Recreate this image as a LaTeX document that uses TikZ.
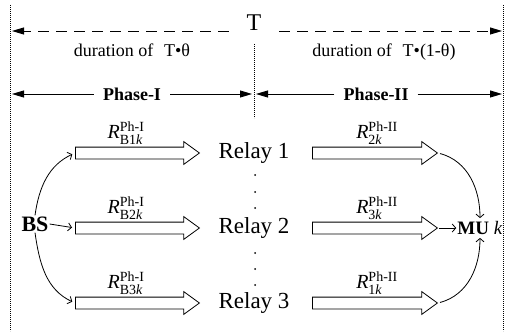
\documentclass[tikz,border=0pt]{standalone}
\usepackage{fontspec}
\usepackage{amsmath}
\setmainfont{Liberation Serif}
\usetikzlibrary{arrows.meta,shapes.arrows}

\begin{document}
\begin{tikzpicture}[x=1pt,y=1pt,
  divider/.style={line width=0.9pt, dash pattern=on 0.9pt off 1.1pt},
  spantip/.style={line width=0.9pt, -{Triangle[length=12pt,width=7pt]}},
  dashtip/.style={line width=0.9pt, dash pattern=on 11pt off 7pt, -{Triangle[length=12pt,width=7pt]}},
  toptext/.style={font=\fontsize{18}{20}\selectfont, inner sep=0pt},
  phasetext/.style={font=\fontsize{18}{20}\selectfont\bfseries, inner xsep=9pt},
  relay/.style={font=\fontsize{23}{25}\selectfont, inner sep=0pt},
  blockarr/.style={single arrow, draw, line width=0.8pt, inner xsep=0pt, inner ysep=5.5pt,
    single arrow head extend=5.5pt,
    single arrow tip angle=72, anchor=tail},
  rlab/.style={font=\fontsize{20}{22}\selectfont, inner sep=0pt},
  conn/.style={line width=0.8pt, -{Straight Barb[length=3.5pt,width=8pt]}},
  dotmark/.style={fill=black}
]
\useasboundingbox (0,0) rectangle (505,335);

% vertical time boundaries
\coordinate (lt) at (10,330);
\coordinate (lb) at (10,4);
\coordinate (rt) at (503,330);
\coordinate (rb) at (503,4);
\coordinate (mt) at (254,291);
\coordinate (mb) at (254,217);
\draw[divider] (lt) -- (lb);
\draw[divider] (rt) -- (rb);
\draw[divider] (mt) -- (mb);

% total frame length T
\node[font=\fontsize{24}{26}\selectfont, inner sep=0pt, minimum width=50pt, anchor=base] (T) at (254,304) {T};
\coordinate (tl) at (12,304);
\coordinate (tr) at (502,304);
\draw[dashtip] (T.base west) -- (tl);
\draw[dashtip] (T.base east) -- (tr);

\node[toptext, anchor=base] (d1) at (132,278) {duration of\hspace{0.35em} T•θ};
\node[toptext, anchor=base] (d2) at (384,278) {duration of\hspace{0.35em} T•(1-θ)};

% phase spans
\node[phasetext] (p1) at (132,241) {Phase-I};
\node[phasetext] (p2) at (376,241) {Phase-II};
\coordinate (pl) at (12,241);
\coordinate (pm1) at (252,241);
\coordinate (pm2) at (256,241);
\coordinate (pr) at (502,241);
\draw[spantip] (p1.west) -- (pl);
\draw[spantip] (p1.east) -- (pm1);
\draw[spantip] (p2.west) -- (pm2);
\draw[spantip] (p2.east) -- (pr);

% relays
\node[relay] (r1) at (254,182) {Relay 1};
\node[relay] (r2) at (254,107) {Relay 2};
\node[relay] (r3) at (254,32) {Relay 3};
\foreach \y in {160,143,127,82,66,50} \fill[dotmark] (255,\y) circle (1pt);

% base station and user
\node[font=\fontsize{22}{24}\selectfont\bfseries, inner sep=1pt] (bs) at (35,111) {BS};
\node[font=\fontsize{19}{21}\selectfont, inner sep=1pt] (mu) at (480,107) {\textbf{MU} \textit{k}};

% phase-I links
\node[blockarr, minimum height=124pt] (a1) at (75,182) {};
\node[blockarr, minimum height=124pt] (a2) at (75,107) {};
\node[blockarr, minimum height=124pt] (a3) at (75,32) {};
\node[rlab] at (126,202) {\textit{R}$^{\text{Ph-I}}_{\text{B1}\textit{k}}$};
\node[rlab] at (126,127) {\textit{R}$^{\text{Ph-I}}_{\text{B2}\textit{k}}$};
\node[rlab] at (126,52) {\textit{R}$^{\text{Ph-I}}_{\text{B3}\textit{k}}$};

% phase-II links
\node[blockarr, minimum height=125pt] (b1) at (312,182) {};
\node[blockarr, minimum height=125pt] (b2) at (312,107) {};
\node[blockarr, minimum height=125pt] (b3) at (312,32) {};
\node[rlab] at (377,202) {\textit{R}$^{\text{Ph-II}}_{\text{2}\textit{k}}$};
\node[rlab] at (377,127) {\textit{R}$^{\text{Ph-II}}_{\text{3}\textit{k}}$};
\node[rlab] at (377,52) {\textit{R}$^{\text{Ph-II}}_{\text{1}\textit{k}}$};

% signal flow
\draw[conn, shorten >=3pt] (bs.north) to[out=82,in=205] (a1.tail);
\draw[conn, shorten >=3pt] (bs.east) -- (a2.tail);
\draw[conn, shorten >=3pt] (bs.south) to[out=-82,in=155] (a3.tail);
\draw[conn, shorten <=2pt, shorten >=2pt] (b1.tip) to[out=-15,in=90] (mu.north);
\draw[conn, shorten <=1pt] (b2.tip) -- (mu.west);
\draw[conn, shorten <=2pt, shorten >=2pt] (b3.tip) to[out=15,in=-90] (mu.south);
\end{tikzpicture}
\end{document}
